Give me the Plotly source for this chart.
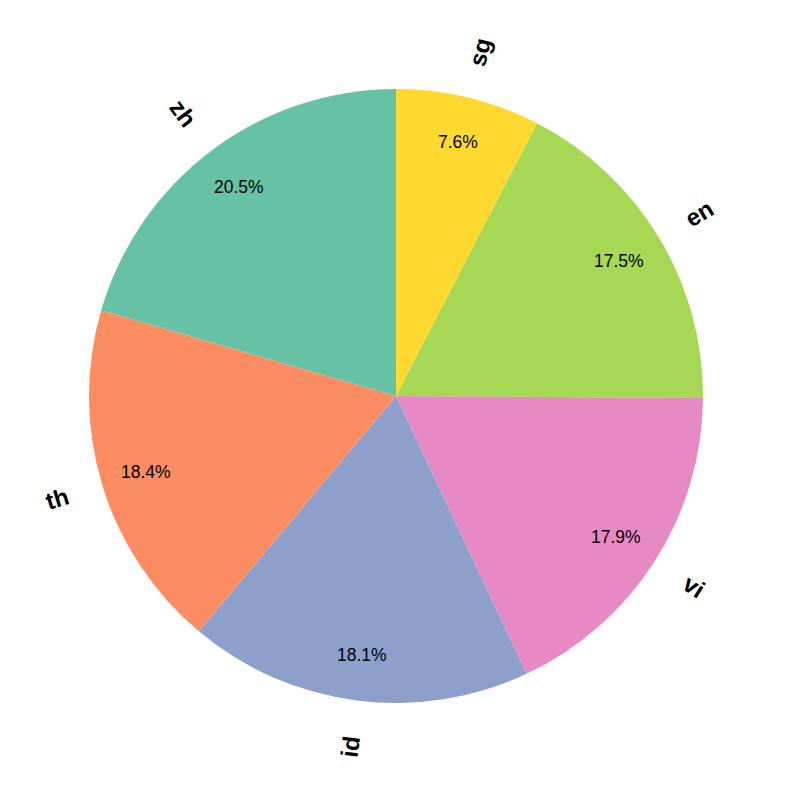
import numpy as np
import plotly.graph_objects as go

# Dati del grafico (ordine antiorario a partire da ore 12)
lingue = ["zh", "th", "id", "vi", "en", "sg"]
quote = [20.5, 18.4, 18.1, 17.9, 17.5, 7.6]
colori = ["#66c2a5", "#fc8d62", "#8da0cb", "#e78ac3", "#a6d854", "#ffd92f"]

W = H = 793
# la pagina ha un margine di 8px: centro in pixel (388, 388) della figura
cx = 388 / W
cy = 1 - 388 / H
R = 307 / W  # raggio in coordinate paper

# plotly disegna in senso orario partendo da ore 12: invertiamo l'ordine
fig = go.Figure(go.Pie(
    labels=lingue[::-1],
    values=quote[::-1],
    marker=dict(colors=colori[::-1], line=dict(width=0)),
    sort=False,
    direction="clockwise",
    rotation=0,
    textinfo="none",
    hoverinfo="label+percent",
    showlegend=False,
    domain=dict(x=[cx - R, cx + R], y=[cy - R, cy + R]),
))

# angoli medi (gradi, antiorario, 90 = ore 12)
tot = sum(quote)
cum = np.cumsum([0] + quote)
annotazioni = []
for i, lab in enumerate(lingue):
    mid = 90 + (cum[i] + quote[i] / 2) / tot * 360
    th = np.deg2rad(mid)
    # percentuale
    annotazioni.append(dict(
        x=cx + 0.85 * R * np.cos(th), y=cy + 0.85 * R * np.sin(th),
        xref="paper", yref="paper", showarrow=False,
        xanchor="center", yanchor="middle",
        text=f"{quote[i] / tot * 100:.1f}%",
        font=dict(family="Liberation Sans, Arial", size=17.5, color="black"),
    ))
    # etichetta ruotata
    rot = mid % 360
    if 90 < rot < 270:
        rot += 180
    half = len(lab) * 8 / W
    d = 1.1 * R + half
    annotazioni.append(dict(
        x=cx + d * np.cos(th), y=cy + d * np.sin(th),
        xref="paper", yref="paper", showarrow=False,
        xanchor="center", yanchor="middle",
        text=f"<b>{lab}</b>", textangle=-rot,
        font=dict(family="Liberation Sans, Arial", size=24, color="black"),
    ))

fig.update_layout(
    width=W, height=H,
    margin=dict(l=0, r=0, t=0, b=0),
    paper_bgcolor="white",
    annotations=annotazioni,
)

fig.write_html("out.html")
